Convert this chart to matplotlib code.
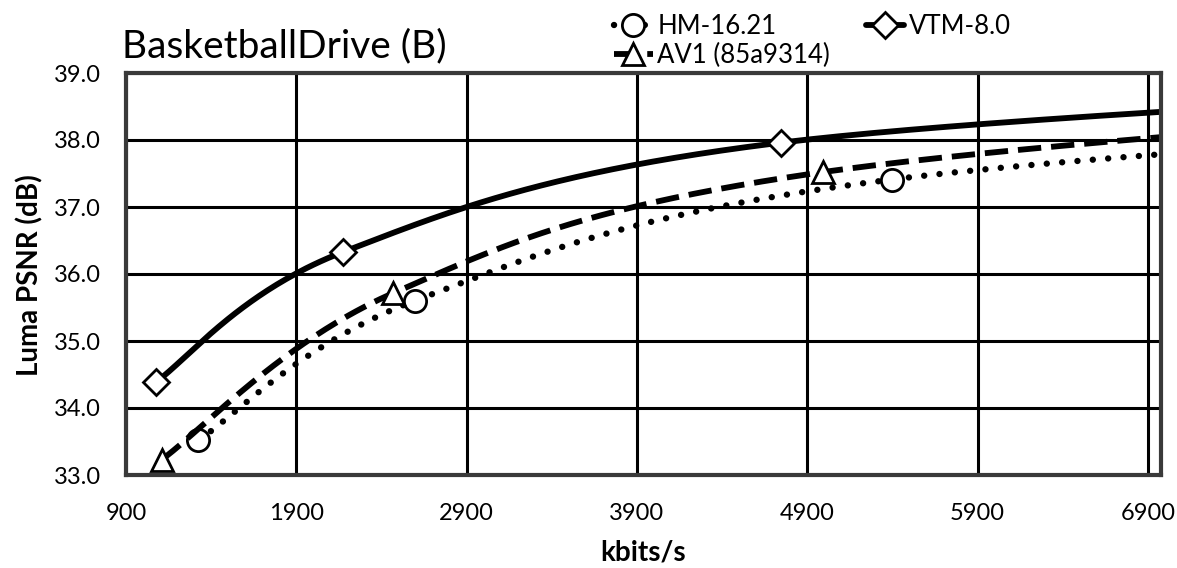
import numpy as np
import matplotlib
matplotlib.use("Agg")
import matplotlib.pyplot as plt

plt.rcParams['font.family'] = ['Lato', 'DejaVu Sans']

# rate (kbits/s) / luma PSNR (dB); last point of each sits beyond the visible range
hm_rate = [1325, 2595, 5396, 12000]
hm_psnr = [33.52, 35.60, 37.41, 38.60]
vtm_rate = [1076, 2176, 4744, 10500]
vtm_psnr = [34.39, 36.33, 37.96, 38.92]
av1_rate = [1110, 2465, 4990, 11000]
av1_psnr = [33.23, 35.71, 37.52, 38.82]

labels = ['HM-16.21', 'VTM-8.0', 'AV1 (85a9314)']
x_ticks = np.arange(900, 6901, 1000)
y_ticks = np.arange(33, 39.01, 1.0)

W, H = 1177, 568
SX, SY = 0.1703, 67.0   # px per unit, so the smoothing works in screen space


def smooth(x, y, n=80):
    # excel-style smoothed line (catmull-rom as bezier)
    pts = np.column_stack([np.asarray(x) * SX, np.asarray(y) * SY])
    out = []
    for i in range(len(pts) - 1):
        p0 = pts[max(i - 1, 0)]
        p1 = pts[i]
        p2 = pts[i + 1]
        p3 = pts[min(i + 2, len(pts) - 1)]
        c1 = p1 + (p2 - p0) / 6
        c2 = p2 - (p3 - p1) / 6
        t = np.linspace(0, 1, n)[:, None]
        seg = (1 - t) ** 3 * p1 + 3 * (1 - t) ** 2 * t * c1 + 3 * (1 - t) * t ** 2 * c2 + t ** 3 * p2
        if i > 0:
            seg = seg[1:]
        out.append(seg)
    c = np.vstack(out)
    idx = [i * (n - 1) for i in range(len(pts))]
    return c[:, 0] / SX, c[:, 1] / SY, idx


fig = plt.figure(figsize=(W / 100, H / 100), dpi=100)
ax = fig.add_axes([126 / W, 93 / H, 1035 / W, 402 / H])

mk = dict(markerfacecolor='white', markeredgecolor='black', markeredgewidth=2.0, color='black')

x, y, idx = smooth(hm_rate, hm_psnr)
l_hm, = ax.plot(x, y, lw=4.6, dashes=(0.01, 2.4), dash_capstyle='round',
                marker='o', markersize=16, markevery=idx, label=labels[0], **mk)
x, y, idx = smooth(av1_rate, av1_psnr)
l_av1, = ax.plot(x, y, lw=4.2, dashes=(4.0, 1.7),
                 marker='^', markersize=16, markevery=idx, label=labels[2], **mk)
x, y, idx = smooth(vtm_rate, vtm_psnr)
l_vtm, = ax.plot(x, y, lw=4.2, solid_capstyle='round',
                 marker='D', markersize=13, markevery=idx, label=labels[1], **mk)

ax.set_xlim(900, 6977)
ax.set_ylim(33, 39)
ax.set_xticks(x_ticks)
ax.set_yticks(y_ticks)
ax.set_yticklabels([f'{v:.1f}' for v in y_ticks])
ax.tick_params(axis='y', length=0, pad=18, labelsize=17)
ax.tick_params(axis='x', length=0, pad=20, labelsize=17)
ax.grid(True, color='black', lw=2.2)
for s in ax.spines.values():
    s.set_color('#3a3a3a')
    s.set_linewidth(3)

fig.text(29.5 / W, 1 - 275 / H, 'Luma PSNR (dB)', rotation=90, ha='center', va='center',
         fontsize=20, fontweight='bold')
fig.text(643 / W, 1 - 553 / H, 'kbits/s', ha='center', va='center', fontsize=20, fontweight='bold')
fig.text(284 / W, 1 - 57 / H, 'BasketballDrive (B)', ha='center', va='baseline', fontsize=28)

fig.legend(handles=[l_hm, l_av1, l_vtm], ncol=2, loc='upper left',
           bbox_to_anchor=(614 / W, 1 - 14 / H), frameon=False, fontsize=18.5,
           handlelength=1.5, handletextpad=0.18, columnspacing=1.4,
           labelspacing=0.15, borderpad=0, borderaxespad=0, numpoints=1)

fig.savefig('out.png', dpi=100)
